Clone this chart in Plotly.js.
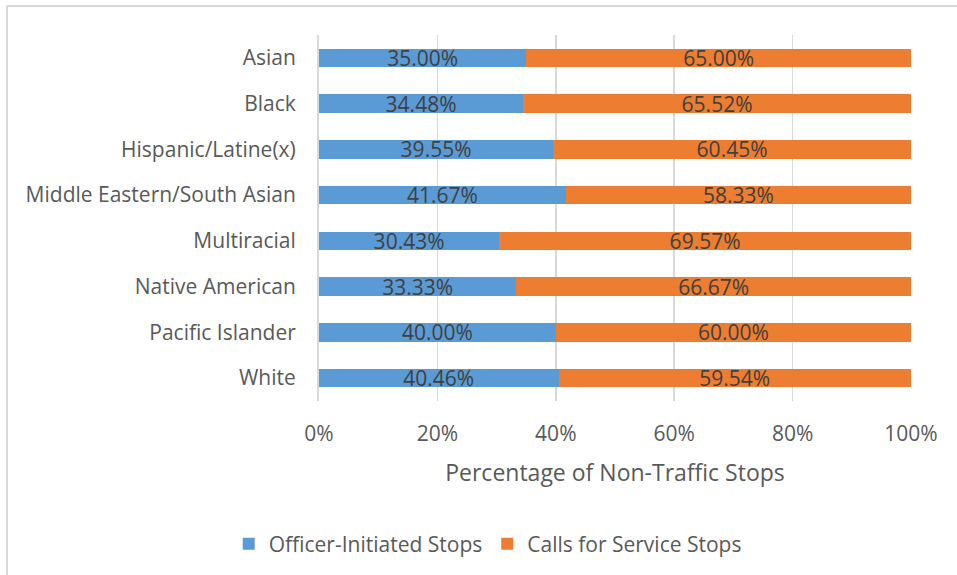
<!DOCTYPE html>
<html>
<head>
<meta charset="utf-8">
<script src="https://cdn.plot.ly/plotly-3.0.1.min.js"></script>
<style>html,body{margin:0;padding:0;background:#fff;}#chart{width:957px;height:575px;}</style>
</head>
<body>
<div id="chart"></div>
<script>
var categories = ["Asian", "Black", "Hispanic/Latine(x)", "Middle Eastern/South Asian", "Multiracial", "Native American", "Pacific Islander", "White"];
var officerInitiated = [35.00, 34.48, 39.55, 41.67, 30.43, 33.33, 40.00, 40.46];
var callsForService = [65.00, 65.52, 60.45, 58.33, 69.57, 66.67, 60.00, 59.54];
var seriesNames = ["Officer-Initiated Stops", "Calls for Service Stops"];
var xTickValues = [0, 20, 40, 60, 80, 100];
var xTickLabels = ["0%", "20%", "40%", "60%", "80%", "100%"];

var FONT = "Open Sans, sans-serif";
var FS = 21;
var traces = [
  {type: "bar", orientation: "h", name: seriesNames[0], y: categories, x: officerInitiated,
   marker: {color: "#5B9BD5"}, text: officerInitiated.map(function(v){return v.toFixed(2) + "%";}),
   textposition: "inside", insidetextanchor: "middle", textangle: 0, cliponaxis: false,
   textfont: {family: FONT, size: FS, color: "#404040"}, hoverinfo: "x+y"},
  {type: "bar", orientation: "h", name: seriesNames[1], y: categories, x: callsForService,
   marker: {color: "#ED7D31"}, text: callsForService.map(function(v){return v.toFixed(2) + "%";}),
   textposition: "inside", insidetextanchor: "middle", textangle: 0, cliponaxis: false,
   textfont: {family: FONT, size: FS, color: "#404040"}, hoverinfo: "x+y"}
];

var layout = {
  width: 957, height: 575,
  margin: {l: 319, r: 46, t: 35, b: 173, pad: 0},
  barmode: "stack", bargap: 0.6,
  uniformtext: {minsize: FS, mode: "show"},
  paper_bgcolor: "#ffffff", plot_bgcolor: "#ffffff",
  font: {family: FONT, size: FS, color: "#595959"},
  xaxis: {range: [0, 100], tickmode: "array", tickvals: xTickValues, ticktext: xTickLabels, showgrid: true, gridcolor: "#d9d9d9", gridwidth: 1.5,
          zeroline: false, showline: false, ticks: "", ticklen: 0, ticklabelstandoff: 18,
          tickfont: {family: FONT, size: FS, color: "#595959"},
          title: {text: "Percentage of Non-Traffic Stops", font: {family: FONT, size: 23, color: "#595959"}, standoff: 18},
          fixedrange: true},
  yaxis: {autorange: "reversed", showgrid: false, showline: true, linecolor: "#d9d9d9", linewidth: 2, ticks: "",
          ticklabelstandoff: 17, tickfont: {family: FONT, size: FS, color: "#595959"}, fixedrange: true},
  legend: {orientation: "h", x: 0.285, xanchor: "center", y: -0.387, yanchor: "middle",
           font: {family: FONT, size: FS, color: "#595959"}, traceorder: "normal", itemwidth: 30},
  shapes: [
    {type: "line", xref: "paper", yref: "paper", x0: -0.527, x1: 1.2, y0: 1.079, y1: 1.079, line: {color: "#d9d9d9", width: 2}},
    {type: "line", xref: "paper", yref: "paper", x0: -0.527, x1: -0.527, y0: 1.079, y1: -0.5, line: {color: "#d9d9d9", width: 2}}
  ],
  showlegend: true
};
Plotly.newPlot("chart", traces, layout, {displayModeBar: false, staticPlot: true});
</script>
</body>
</html>
